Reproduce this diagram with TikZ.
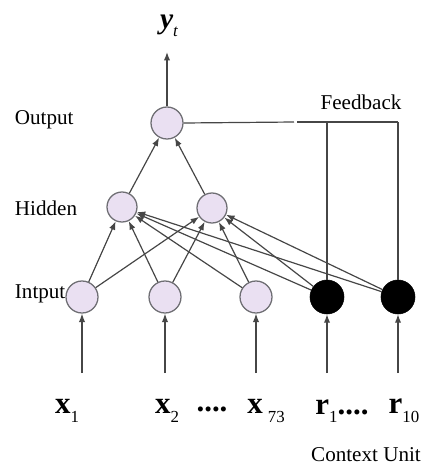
\documentclass[tikz,border=0pt]{standalone}
\usepackage{fontspec}
\setmainfont{Liberation Serif}
\usepackage{tikz}
\usetikzlibrary{arrows.meta, positioning}
\definecolor{nodefill}{RGB}{234,224,242}
\definecolor{nodeedge}{RGB}{110,110,115}
\definecolor{linegray}{RGB}{70,70,70}
\tikzset{
  unit/.style={circle, draw=nodeedge, fill=nodefill, line width=0.9pt,
    minimum size=0.8cm, inner sep=0pt},
  hunit/.style={unit, minimum size=0.75cm},
  ctxunit/.style={circle, draw=black, fill=black, minimum size=0.85cm, inner sep=0pt},
  arrow/.style={-{Latex[length=6pt,width=4.5pt]}, line width=0.85pt, color=linegray},
  line/.style={line width=0.85pt, color=linegray},
  layerlbl/.style={font=\fontsize{15}{18}\selectfont, anchor=west},
  varlbl/.style={font=\fontsize{22}{26}\selectfont\bfseries, inner sep=0pt}
}
\newcommand{\subtxt}[1]{\raisebox{-0.6ex}{\fontsize{12}{13}\mdseries\selectfont #1}}

\begin{document}
\begin{tikzpicture}[x=0.025cm, y=-0.025cm]
  \useasboundingbox (0,0) rectangle (435,468);
  % Layer names
  \node[layerlbl] (lout) at (10,120) {Output};
  \node[layerlbl] (lhid) at (10,208) {Hidden};
  \node[layerlbl] (linp) at (10,294) {Intput};
  % Output and hidden units
  \node[unit] (out) at (167,123) {};
  \node[hunit] (h1) at (122,207) {};
  \node[hunit] (h2) at (212,208) {};
  % Input units
  \foreach \i/\x in {1/82, 2/165, 3/256} {
    \node[unit] (in\i) at (\x,297) {};
  }
  % Context units
  \node[ctxunit] (in4) at (327,297) {};
  \node[ctxunit] (in5) at (398,297) {};
  % Inputs to hidden layer
  \foreach \i in {1,...,5} {
    \draw[arrow] (in\i) -- (h1);
    \draw[arrow] (in\i) -- (h2);
  }
  % Hidden to output
  \draw[arrow] (h1) -- (out);
  \draw[arrow] (h2) -- (out);
  \coordinate (ytop) at (167,52);
  \draw[arrow] (out.north) -- (ytop);
  \node[varlbl, font=\fontsize{21}{24}\selectfont\bfseries\itshape] (yt) at (169,26) {y\subtxt{\itshape t}};
  % Feedback lines
  \coordinate (fbgap1) at (294,122);
  \coordinate (fbgap2) at (297,122);
  \coordinate (fbr1) at (327,122);
  \coordinate (fbr10) at (398,122);
  \draw[line] (out.east) -- (fbgap1);
  \draw[line] (fbgap2) -- (fbr10);
  \draw[line] (fbr1) -- (in4.north);
  \draw[line] (fbr10) -- (in5.north);
  \node[font=\fontsize{15}{18}\selectfont] (fb) at (361,102) {Feedback};
  % Input arrows and labels
  \foreach \i/\x in {1/82, 2/165, 3/256, 4/327, 5/398} {
    \coordinate (src\i) at (\x,373);
    \draw[arrow] (src\i) -- (in\i.south);
  }
  \node[varlbl] (x1) at (67,411) {x\subtxt{1}};
  \node[varlbl] (x2) at (167,411) {x\subtxt{2}};
  \node[varlbl] (dots1) at (212,409) {....};
  \node[varlbl] (x73) at (266,411) {x\,\subtxt{73}};
  \node[varlbl] (r1) at (342,411) {r\subtxt{1}....};
  \node[varlbl] (r10) at (404,411) {r\subtxt{10}};
  \node[font=\fontsize{15}{18}\selectfont] (ctx) at (366,455) {Context Unit};
\end{tikzpicture}
\end{document}
